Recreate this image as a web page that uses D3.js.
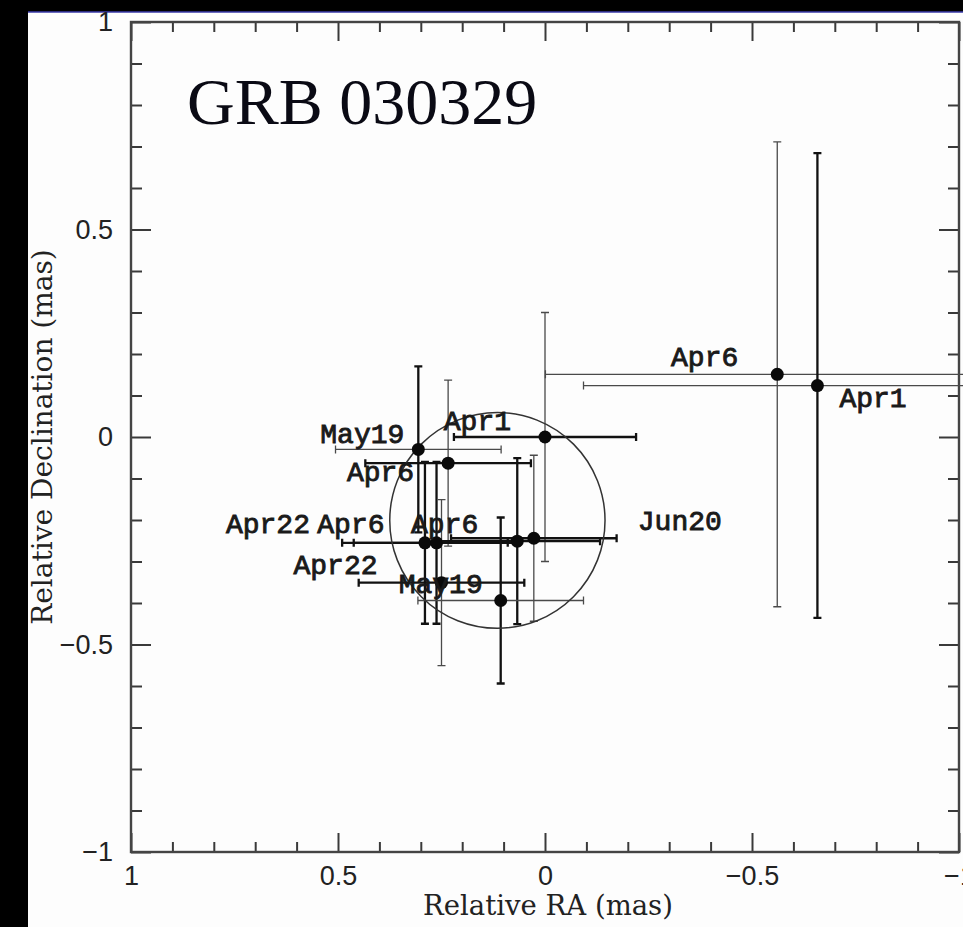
<!DOCTYPE html>
<html>
<head>
<meta charset="utf-8">
<script src="https://cdn.jsdelivr.net/npm/d3@7"></script>
<style>
  html, body { margin: 0; padding: 0; background: #000; overflow: hidden; }
  svg { display: block; }
</style>
</head>
<body>
<svg id="chart" width="963" height="927"></svg>
<script>
// VLBI positions of GRB 030329 relative to the reference point (mas), one entry per epoch/frequency
const epochs    = ["May19", "Apr6", "Apr1", "Apr22", "Apr6", "Apr6", "Jun20", "Apr22", "May19", "Apr6", "Apr1"];
const raOffset  = [0.306, 0.234, 0.000, 0.290, 0.262, 0.067, 0.027, 0.250, 0.107, -0.561, -0.658];
const decOffset = [-0.030, -0.063, 0.000, -0.255, -0.255, -0.251, -0.244, -0.351, -0.394, 0.151, 0.124];
const raError   = [0.20, 0.20, 0.22, 0.20, 0.20, 0.20, 0.20, 0.20, 0.20, 0.56, 0.565];
const decError  = [0.20, 0.20, 0.30, 0.195, 0.195, 0.20, 0.20, 0.20, 0.20, 0.56, 0.56];

// Circle enclosing the clustered detections (mas)
const fitCenter = [0.115, -0.201];
const fitRadius = 0.26;

// Axis ticks
const majorTicks = [1, 0.5, 0, -0.5, -1];
const tickLabels = ["1", "0.5", "0", "\u22120.5", "\u22121"];

// Drawing weights of the RA / Dec error bars ("h" heavy, "l" light)
const raBarWeight  = ["l", "h", "h", "h", "h", "h", "h", "h", "l", "l", "l"];
const decBarWeight = ["h", "l", "l", "h", "h", "h", "l", "l", "h", "l", "h"];

// Label placement relative to each point: [text-anchor, dx px, dy px]
const labelPlacement = [
  ["end", -14, -6], ["end", -34, 18], ["end", -34, -7], ["end", -115, -10],
  ["end", -52, -10], ["end", -39, -8], ["start", 104, -8], ["end", -64, -9],
  ["end", -18, -8], ["end", -39, -8], ["start", 22, 21]
];

const W = 963, H = 927;
const svg = d3.select("#chart");

// Page backdrop: black strips at the left and top, white sheet for the plot
svg.append("rect").attr("x", 0).attr("y", 0).attr("width", W).attr("height", H).attr("fill", "#000");
svg.append("rect").attr("x", 28).attr("y", 12).attr("width", W - 28).attr("height", H - 12).attr("fill", "#fdfdfd");
svg.append("line").attr("x1", 28).attr("x2", W).attr("y1", 12).attr("y2", 12)
  .attr("stroke", "#3a3aa8").attr("stroke-width", 1.5);

const frame = { left: 131, right: 959, top: 22, bottom: 852 };
const x = d3.scaleLinear().domain([1, -1]).range([frame.left, frame.right]);
const y = d3.scaleLinear().domain([1, -1]).range([frame.top, frame.bottom]);

const minorTicks = d3.range(-10, 11).map(d => d / 10).filter(v => Math.abs(v * 2 - Math.round(v * 2)) > 1e-6);

const tickColor = "#3a3a3a";
const labelFmt = v => tickLabels[majorTicks.indexOf(v)];

function styleAxis(g) {
  g.select(".domain").remove();
  g.selectAll(".tick line").attr("stroke", tickColor).attr("stroke-width", 2);
}

// Bottom axis (labelled) and top axis, ticks pointing inward
svg.append("g").attr("transform", `translate(0,${frame.bottom})`)
  .call(d3.axisBottom(x).tickValues(majorTicks).tickSizeInner(-19).tickSizeOuter(0).tickPadding(14).tickFormat(labelFmt))
  .call(styleAxis)
  .call(g => g.selectAll("text").attr("font-family", "'Liberation Sans', Arial, sans-serif").attr("font-size", 27).attr("fill", "#222"));
svg.append("g").attr("transform", `translate(0,${frame.bottom})`)
  .call(d3.axisBottom(x).tickValues(minorTicks).tickSizeInner(-10).tickSizeOuter(0).tickFormat(""))
  .call(styleAxis);
svg.append("g").attr("transform", `translate(0,${frame.top})`)
  .call(d3.axisTop(x).tickValues(majorTicks).tickSizeInner(-19).tickSizeOuter(0).tickFormat(""))
  .call(styleAxis);
svg.append("g").attr("transform", `translate(0,${frame.top})`)
  .call(d3.axisTop(x).tickValues(minorTicks).tickSizeInner(-10).tickSizeOuter(0).tickFormat(""))
  .call(styleAxis);

// Left axis (labelled) and right axis
svg.append("g").attr("transform", `translate(${frame.left},0)`)
  .call(d3.axisLeft(y).tickValues(majorTicks).tickSizeInner(-20).tickSizeOuter(0).tickPadding(18).tickFormat(labelFmt))
  .call(styleAxis)
  .call(g => g.selectAll("text").attr("font-family", "'Liberation Sans', Arial, sans-serif").attr("font-size", 27).attr("fill", "#222"));
svg.append("g").attr("transform", `translate(${frame.left},0)`)
  .call(d3.axisLeft(y).tickValues(minorTicks).tickSizeInner(-11).tickSizeOuter(0).tickFormat(""))
  .call(styleAxis);
svg.append("g").attr("transform", `translate(${frame.right},0)`)
  .call(d3.axisRight(y).tickValues(majorTicks).tickSizeInner(-20).tickSizeOuter(0).tickFormat(""))
  .call(styleAxis);
svg.append("g").attr("transform", `translate(${frame.right},0)`)
  .call(d3.axisRight(y).tickValues(minorTicks).tickSizeInner(-11).tickSizeOuter(0).tickFormat(""))
  .call(styleAxis);

// Plot frame
svg.append("rect")
  .attr("x", frame.left).attr("y", frame.top)
  .attr("width", frame.right - frame.left).attr("height", frame.bottom - frame.top)
  .attr("fill", "none").attr("stroke", "#444").attr("stroke-width", 2.4);

// Axis titles
svg.append("text")
  .attr("x", (frame.left + frame.right) / 2 + 3).attr("y", 915)
  .attr("text-anchor", "middle")
  .attr("font-family", "'DejaVu Serif', serif").attr("font-size", 27.5).attr("fill", "#222")
  .text("Relative RA (mas)");
svg.append("text")
  .attr("transform", `translate(52,${(frame.top + frame.bottom) / 2}) rotate(-90)`)
  .attr("text-anchor", "middle")
  .attr("font-family", "'DejaVu Serif', serif").attr("font-size", 28).attr("fill", "#222")
  .text("Relative Declination (mas)");

// Source name
svg.append("text")
  .attr("x", 187).attr("y", 124)
  .attr("font-family", "'Liberation Serif', 'Times New Roman', serif").attr("font-size", 66)
  .attr("fill", "#0a0a14")
  .text("GRB 030329");

const points = epochs.map((e, i) => ({
  label: e, ra: raOffset[i], dec: decOffset[i], era: raError[i], edec: decError[i],
  wRa: raBarWeight[i], wDec: decBarWeight[i], place: labelPlacement[i]
}));

const weight = w => w === "h" ? { w: 2.3, c: "#111" } : { w: 1.3, c: "#4a4a4a" };
const cap = 4;
const bars = svg.append("g").attr("fill", "none");

points.forEach(p => {
  const cx = x(p.ra), cy = y(p.dec);
  const xl = x(p.ra + p.era), xr = x(p.ra - p.era);
  const yt = y(p.dec + p.edec), yb = y(p.dec - p.edec);
  const sr = weight(p.wRa), sd = weight(p.wDec);
  bars.append("path")
    .attr("d", `M${xl},${cy}H${xr}M${xl},${cy - cap}V${cy + cap}M${xr},${cy - cap}V${cy + cap}`)
    .attr("stroke", sr.c).attr("stroke-width", sr.w);
  bars.append("path")
    .attr("d", `M${cx},${yt}V${yb}M${cx - cap},${yt}H${cx + cap}M${cx - cap},${yb}H${cx + cap}`)
    .attr("stroke", sd.c).attr("stroke-width", sd.w);
});

// Enclosing circle
svg.append("ellipse")
  .attr("cx", x(fitCenter[0])).attr("cy", y(fitCenter[1]))
  .attr("rx", Math.abs(x(fitRadius) - x(0))).attr("ry", Math.abs(y(fitRadius) - y(0)))
  .attr("fill", "none").attr("stroke", "#333").attr("stroke-width", 1.5);

// Measured positions
svg.append("g").selectAll("circle").data(points).join("circle")
  .attr("cx", d => x(d.ra)).attr("cy", d => y(d.dec)).attr("r", 6.5)
  .attr("fill", "#0a0a0a");

// Epoch labels
svg.append("g").selectAll("text").data(points).join("text")
  .attr("x", d => x(d.ra) + d.place[1]).attr("y", d => y(d.dec) + d.place[2])
  .attr("text-anchor", d => d.place[0])
  .attr("font-family", "'Liberation Mono', 'Courier New', monospace")
  .attr("font-size", 28).attr("fill", "#1a1a1a")
  .attr("stroke", "#1a1a1a").attr("stroke-width", 0.9)
  .text(d => d.label);
</script>
</body>
</html>
